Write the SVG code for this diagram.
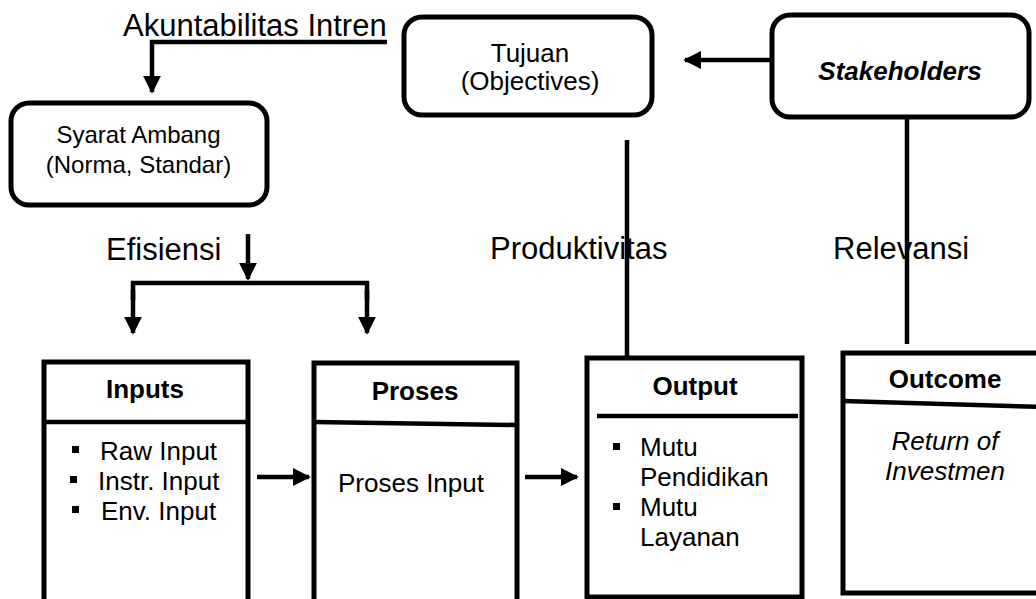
<svg xmlns="http://www.w3.org/2000/svg" width="1036" height="599" viewBox="0 0 1036 599">
<defs>
<marker id="ah" markerWidth="4" markerHeight="4" refX="3.6" refY="2" orient="auto" markerUnits="strokeWidth">
<path d="M0,0 L4,2 L0,4 Z" fill="#000"/>
</marker>
<style>
.box{fill:#fff;stroke:#000;stroke-width:5}
.ln{fill:none;stroke:#000;stroke-width:4.5}
.t{font-family:"Liberation Sans",Arial,sans-serif;fill:#000}
.lbl{font-size:31px}
.n{font-size:26px}
.h{font-size:26px;font-weight:bold}
.b{font-size:26px}
</style>
</defs>
<rect width="1036" height="599" fill="#fff"/>
<g id="connectors">
<polyline class="ln" points="387,42 152,42 152,92" marker-end="url(#ah)"/>
<line class="ln" x1="771" y1="60" x2="685" y2="60" marker-end="url(#ah)"/>
<line class="ln" x1="907" y1="117" x2="907" y2="344"/>
<line class="ln" x1="627" y1="140" x2="627" y2="357"/>
<line class="ln" x1="248" y1="234" x2="248" y2="279" marker-end="url(#ah)"/>
<polyline class="ln" points="133,300 133,283 367,283 367,300"/>
<line class="ln" x1="133" y1="290" x2="133" y2="333" marker-end="url(#ah)"/>
<line class="ln" x1="367" y1="290" x2="367" y2="333" marker-end="url(#ah)"/>
<line class="ln" x1="257" y1="477" x2="309" y2="477" marker-end="url(#ah)"/>
<line class="ln" x1="525" y1="477" x2="577" y2="477" marker-end="url(#ah)"/>
</g>
<g id="labels">
<text class="t lbl" x="123" y="36">Akuntabilitas Intren</text>
<text class="t lbl" x="106" y="260">Efisiensi</text>
<text class="t lbl" x="490" y="259">Produktivitas</text>
<text class="t lbl" x="833" y="259">Relevansi</text>
</g>
<g id="syarat">
<rect class="box" x="11" y="103" width="256" height="102" rx="18"/>
<text class="t" font-size="24" x="138.5" y="143" text-anchor="middle">Syarat Ambang</text>
<text class="t" font-size="24" x="138.5" y="173" text-anchor="middle">(Norma, Standar)</text>
</g>
<g id="tujuan">
<rect class="box" x="404" y="17" width="248" height="98" rx="18"/>
<text class="t n" x="530" y="62" text-anchor="middle">Tujuan</text>
<text class="t n" x="530" y="90" text-anchor="middle">(Objectives)</text>
</g>
<g id="stakeholders">
<rect class="box" x="772" y="15" width="257" height="102" rx="18"/>
<text class="t n" x="900" y="80" text-anchor="middle" font-weight="bold" font-style="italic">Stakeholders</text>
</g>
<g id="inputs">
<path class="box" d="M44,610 L44,362 L248,362 L248,610"/>
<line class="ln" x1="44" y1="422" x2="248" y2="422"/>
<text class="t h" x="145" y="398" text-anchor="middle">Inputs</text>
<rect x="72" y="446" width="7" height="7"/>
<rect x="70" y="476" width="7" height="7"/>
<rect x="72" y="506" width="7" height="7"/>
<text class="t b" x="100" y="460">Raw Input</text>
<text class="t b" x="98" y="490">Instr. Input</text>
<text class="t b" x="101" y="520">Env. Input</text>
</g>
<g id="proses">
<path class="box" d="M314,610 L314,363 L517,363 L517,610"/>
<line class="ln" x1="314" y1="422" x2="517" y2="425"/>
<text class="t h" x="415" y="400" text-anchor="middle">Proses</text>
<text class="t b" x="411" y="492" text-anchor="middle">Proses Input</text>
</g>
<g id="output">
<rect class="box" x="587" y="358" width="215" height="239"/>
<line class="ln" x1="597" y1="416" x2="798" y2="416"/>
<text class="t h" x="695" y="395" text-anchor="middle">Output</text>
<rect x="613" y="443" width="7" height="7"/>
<rect x="613" y="503" width="7" height="7"/>
<text class="t b" x="640" y="456">Mutu</text>
<text class="t b" x="640" y="486">Pendidikan</text>
<text class="t b" x="640" y="516">Mutu</text>
<text class="t b" x="640" y="546">Layanan</text>
</g>
<g id="outcome">
<path class="box" d="M1045,353 L843,353 L843,593 L1045,593"/>
<line class="ln" x1="843" y1="401" x2="1045" y2="407"/>
<text class="t h" x="945" y="388" text-anchor="middle">Outcome</text>
<text class="t b" x="945" y="450" text-anchor="middle" font-style="italic">Return of</text>
<text class="t b" x="945" y="480" text-anchor="middle" font-style="italic">Investmen</text>
</g>
</svg>
